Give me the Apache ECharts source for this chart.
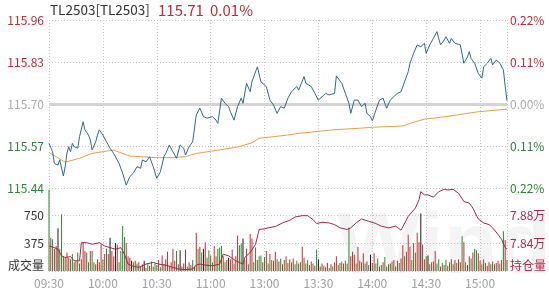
<!DOCTYPE html>
<html><head><meta charset="utf-8">
<script src="https://cdn.jsdelivr.net/npm/echarts@6/dist/echarts.min.js"></script>
<style>html,body{margin:0;padding:0;background:#fff}#c{width:549px;height:289px}</style>
</head><body><div id="c"></div>
<script>
const symbolName = 'TL2503[TL2503]';
const lastPrice = '115.71';
const lastPct = '0.01%';
const preClose = 115.70;
const timeLabels = ['09:30','10:00','10:30','11:00','13:00','13:30','14:00','14:30','15:00'];

const priceMinute = [0,2,3,5,6,8,9,10,11,12,13,14,16,17,19,20,22,23,24,26,27,28,30,32,34,36,38,39,41,43,45,47,49,51,52,54,56,58,60,62,64,65,67,69,71,73,75,76,78,80,82,84,86,88,89,91,93,94,96,98,100,101,103,105,107,108,110,112,113,116,118,121,123,125,127,129,131,133,135,138,139,142,143,146,148,150,151,154,156,159,160,163,164,165,167,168,170,172,174,176,177,179,180,182,184,186,188,189,190,192,194,196,198,200,201,203,204,205,207,209,210,212,214,215,216,217,218,220,221,223,224,226,227,229,230,231,233,234,235,237,238,239,241,242,244,246,247,249,250,251,253,254,255];
const priceValue = [115.578,115.552,115.516,115.511,115.527,115.477,115.506,115.548,115.568,115.552,115.578,115.568,115.563,115.599,115.645,115.620,115.604,115.589,115.558,115.583,115.604,115.620,115.604,115.583,115.563,115.547,115.527,115.516,115.486,115.449,115.475,115.486,115.506,115.501,115.527,115.521,115.537,115.506,115.470,115.490,115.537,115.547,115.573,115.552,115.532,115.573,115.563,115.542,115.568,115.583,115.666,115.687,115.661,115.656,115.650,115.661,115.650,115.640,115.718,115.702,115.692,115.676,115.650,115.692,115.718,115.702,115.764,115.738,115.769,115.815,115.769,115.754,115.712,115.697,115.671,115.692,115.687,115.718,115.738,115.754,115.743,115.785,115.764,115.754,115.733,115.712,115.707,115.733,115.728,115.733,115.787,115.764,115.769,115.733,115.702,115.671,115.712,115.712,115.692,115.702,115.671,115.661,115.648,115.681,115.712,115.718,115.687,115.681,115.712,115.723,115.733,115.738,115.769,115.800,115.826,115.857,115.862,115.883,115.877,115.888,115.857,115.883,115.903,115.908,115.924,115.903,115.883,115.898,115.908,115.888,115.903,115.888,115.893,115.883,115.877,115.826,115.846,115.862,115.841,115.826,115.831,115.795,115.780,115.815,115.826,115.841,115.821,115.836,115.838,115.826,115.805,115.754,115.710];

const avgMinute = [0,3,9,17,24,33,36,45,51,59,69,76,82,95,106,113,117,122,133,139,151,158,173,180,197,202,209,221,239,255];
const avgValue = [115.55,115.54,115.52,115.532,115.547,115.555,115.557,115.539,115.537,115.534,115.534,115.537,115.547,115.558,115.568,115.580,115.594,115.597,115.604,115.609,115.616,115.620,115.625,115.628,115.632,115.642,115.653,115.661,115.676,115.684];

const volume = [1100,450,430,300,340,580,300,770,200,180,
250,180,160,230,120,140,250,100,160,380,
270,250,120,270,270,120,90,160,120,360,
160,230,300,230,450,270,200,380,360,120,
270,610,460,380,200,180,140,120,140,100,
120,60,90,140,40,110,70,130,60,100,
80,150,50,210,90,160,260,60,120,300,
140,270,90,280,60,100,290,60,120,80,
150,60,520,300,330,250,300,390,180,280,
210,120,340,200,300,320,340,200,120,150,
180,160,290,100,200,480,350,370,440,150,
300,90,500,440,120,320,150,200,210,120,
190,270,100,230,150,140,260,160,130,170,
90,150,200,110,160,120,170,90,140,100,
120,330,180,100,150,80,130,100,70,290,
160,60,100,70,50,110,40,90,60,120,
200,80,110,130,100,140,100,590,200,260,
220,100,330,140,120,240,100,130,80,220,
110,240,100,170,60,80,120,190,60,90,
100,130,150,60,140,110,170,350,200,260,
490,330,150,380,250,520,390,780,360,160,
200,210,90,120,130,270,100,160,60,110,
80,150,70,120,160,90,150,110,160,120,
470,390,120,80,200,170,250,300,280,240,
140,90,160,110,70,120,90,130,90,110,
140,100,150,540,420,150];
const volumeDir = 'grgrrkggrg'+'rrggrrggrr'+'rggrggrrrr'+'grgrkrrkrg'+'gggrrrkgrg'+
  'rgrkrgrgrg'+'grgrgrrgrr'+'rgrkgrrgrg'+'grrgrgkrgg'+'rgrrgggrgr'+
  'krrgrrggkr'+'rgrrggrggr'+'grgrgrrgrg'+'rgrrgrrggr'+'grrggrrgrg'+
  'krrgrrgrgr'+'rgrgrgrgrr'+'rgrrgrgrgk'+'rrggrgrgrg'+'rgrgrgrrgr'+
  'rrgrgrrkrr'+'gkrgrrggrg'+'rgrgrgrgrr'+'grgrrgrggr'+'rgrgrrgrgr'+'rgrgrg';

const oiMinute = [0,1,3,5,7,9,12,14,17,18,21,24,28,29,31,34,35,37,40,42,44,47,50,54,58,61,65,69,72,76,80,82,84,87,91,95,97,100,104,108,109,112,115,117,120,122,126,130,134,137,141,144,147,149,152,156,159,162,166,168,171,174,178,182,185,189,193,196,197,200,204,206,207,209,211,214,217,220,222,225,228,231,234,236,239,242,245,247,250,252,254,255];
const oiValue = [78361,78361,78338,78314,78219,78195,78209,78147,78147,78410,78410,78386,78410,78433,78361,78338,78361,78314,78338,78243,78100,78067,78052,78100,78124,78100,78086,78052,78029,78019,78029,78086,78100,78086,78076,78100,78243,78219,78147,78100,78195,78267,78386,78600,78610,78624,78643,78695,78733,78781,78800,78800,78743,78686,78705,78695,78671,78624,78600,78624,78695,78752,78719,78686,78648,78624,78648,78590,78576,78790,78910,79029,79147,79100,79100,79067,79147,79181,79171,79181,79124,79005,78981,78910,78752,78695,78671,78624,78529,78457,78338,78314];

const FONT = '"Microsoft YaHei","Noto Sans CJK SC",sans-serif';
const RED = '#bd2b33', GREEN = '#2e8236', GRAY = '#aaaaaa';
const GRIDC = '#c4c4c4';
const dotted = {show:true, lineStyle:{color:GRIDC, type:[1,2], width:1}};
const dirColor = {r:'#c0302f', g:'#2a8a2a', k:'#1a1a1a'};

const zip = (a,b) => a.map((v,i)=>[v,b[i]]);
const volData = volume.map((v,i)=>({value:[i,v], itemStyle:{color:dirColor[volumeDir[i]]}}));

const xCommon = {
  type:'value', min:0, max:255, interval:30,
  axisLine:{show:false}, axisTick:{show:false}, splitLine:dotted
};
const fmtTime = v => (v%30===0 && v<=240) ? timeLabels[v/30] : '';

const chart = echarts.init(document.getElementById('c'), null, {renderer:'canvas'});
chart.setOption({
  animation:false,
  textStyle:{fontFamily:FONT},
  graphic:[
    {type:'text', left:337, top:205, z:-10, silent:true,
     style:{text:'Wind', fontSize:88, fontFamily:'Arial', fontWeight:'bold', fill:'rgba(0,0,0,0.045)'}},
    {type:'text', x:50, y:10, style:{text:symbolName, fontSize:13.5, fontFamily:FONT, fill:'#333', verticalAlign:'middle'}},
    {type:'text', x:158, y:10, style:{text:lastPrice, fontSize:15, fontFamily:FONT, fill:RED, verticalAlign:'middle'}},
    {type:'text', x:210, y:10, style:{text:lastPct, fontSize:15, fontFamily:FONT, fill:RED, verticalAlign:'middle'}}
  ],
  grid:[
    {left:49, right:42, top:20, height:168},
    {left:49, right:42, top:188, height:84}
  ],
  xAxis:[
    Object.assign({gridIndex:0, axisLabel:{show:false}}, xCommon),
    Object.assign({gridIndex:1, axisLabel:{show:true, formatter:fmtTime, color:'#a0a0a0', fontSize:12, margin:6, fontFamily:FONT, showMaxLabel:false}}, xCommon)
  ],
  yAxis:[
    {gridIndex:0, type:'value', min:115.44, max:115.96, interval:0.13, scale:true,
     axisLine:{show:false}, axisTick:{show:false},
     splitLine:dotted,
     axisLabel:{margin:5, fontSize:12, fontFamily:FONT,
       formatter:v=>v.toFixed(2),
       color:v=>{const d=Math.round((v-preClose)*100); return d>0?RED:(d<0?GREEN:GRAY);}}},
    {gridIndex:0, type:'value', min:115.44, max:115.96, interval:0.13, scale:true, position:'right',
     axisLine:{show:false}, axisTick:{show:false}, splitLine:{show:false},
     axisLabel:{margin:3, fontSize:12, fontFamily:FONT,
       formatter:v=>Math.abs((v-preClose)/preClose*100).toFixed(2)+'%',
       color:v=>{const d=Math.round((v-preClose)*100); return d>0?RED:(d<0?GREEN:GRAY);}}},
    {gridIndex:1, type:'value', min:0, max:1125, interval:375,
     axisLine:{show:false}, axisTick:{show:false}, splitLine:dotted,
     axisLabel:{margin:5, fontSize:12, fontFamily:FONT, color:'#333',
       formatter:v=> v===0 ? '{q|成交量}' : (v>=1125 ? '' : String(v)),
       rich:{q:{fontSize:12, fontFamily:FONT, color:'#333', padding:[0,0,12,0]}}}},
    {gridIndex:1, type:'value', min:78000, max:79200, interval:400, position:'right',
     axisLine:{show:false}, axisTick:{show:false}, splitLine:{show:false},
     axisLabel:{margin:3, fontSize:12, fontFamily:FONT, color:'#b02a45',
       formatter:v=> v===78000 ? '{q|持仓量}' : (v>=79200 ? '' : (v/10000).toFixed(2)+'万'),
       rich:{q:{fontSize:12, fontFamily:FONT, color:'#b02a45', padding:[0,0,12,0]}}}}
  ],
  series:[
    {type:'line', xAxisIndex:0, yAxisIndex:0, data:zip(avgMinute, avgValue), showSymbol:false,
     lineStyle:{color:'#e2a04c', width:1}, z:3},
    {type:'line', xAxisIndex:0, yAxisIndex:0, data:zip(priceMinute, priceValue), showSymbol:false,
     lineStyle:{color:'#2d6a83', width:1}, z:4,
     markLine:{silent:true, symbol:'none', label:{show:false},
       lineStyle:{color:'#d4d4d4', width:3, type:'solid'}, data:[{yAxis:preClose}], z:2}},
    {type:'bar', xAxisIndex:1, yAxisIndex:2, data:volData, barWidth:1, z:2},
    {type:'line', xAxisIndex:1, yAxisIndex:3, data:zip(oiMinute, oiValue), showSymbol:false,
     lineStyle:{color:'#a0284a', width:1}, z:5}
  ]
});
</script></body></html>
